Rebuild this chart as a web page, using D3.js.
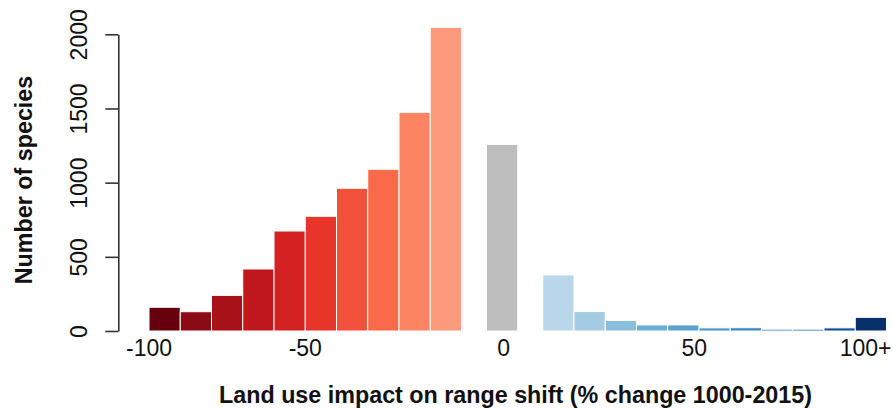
<!DOCTYPE html>
<html>
<head>
<meta charset="utf-8">
<script src="https://cdn.jsdelivr.net/npm/d3@7"></script>
<style>
  html, body { margin: 0; padding: 0; background: #fff; }
  svg { display: block; font-family: "Liberation Sans", Arial, sans-serif; }
</style>
</head>
<body>
<svg id="chart" width="893" height="409"></svg>
<script>
// Species counts per range-shift class (% change 1000-2015)
const lossBins = ["-100", "-90", "-80", "-70", "-60", "-50", "-40", "-30", "-20", "-10"];
const lossCounts = [160, 130, 240, 418, 674, 773, 962, 1090, 1474, 2047];
const lossColors = ["#67000d", "#8a0b13", "#a81118", "#c0171d", "#d42121",
                    "#e8352a", "#f3503b", "#fb6a4a", "#fc8463", "#fc9a7b"];

const noChangeBin = ["0"];
const noChangeCount = [1258];
const noChangeColor = ["#bebebe"];

const gainBins = ["0", "10", "20", "30", "40", "50", "60", "70", "80", "90", "100+"];
const gainCounts = [378, 131, 71, 41, 41, 21, 22, 12, 12, 21, 92];
const gainColors = ["#bad6eb", "#a3cbe3", "#88bedc", "#6baed6", "#5aa2cf",
                    "#4a94c8", "#3a86c0", "#2f78b8", "#2068ad", "#0f4f97", "#08306b"];

const xTickLabels = ["-100", "-50", "0", "50", "100+"];
const yTickValues = [0, 500, 1000, 1500, 2000];

// Bar layout in bar-width units: loss bars touch, then a gap, the
// no-change bar, another gap, and the gain bars.
const gapUnits = 0.8;
const bars = [];
let u = 0;
lossCounts.forEach((v, i) => { bars.push({ bin: lossBins[i], value: v, color: lossColors[i], u0: u }); u += 1; });
u += gapUnits;
const zeroBar = u;
noChangeCount.forEach((v, i) => { bars.push({ bin: noChangeBin[i], value: v, color: noChangeColor[i], u0: u }); u += 1; });
u += gapUnits;
const gainStart = u;
gainCounts.forEach((v, i) => { bars.push({ bin: gainBins[i], value: v, color: gainColors[i], u0: u }); u += 1; });
const totalUnits = u;

// Label positions along the same unit axis
const xTickAt = [0, 5, zeroBar + 0.55, gainStart + 4.85, gainStart + 10.33];

const svg = d3.select("#chart");

const x = d3.scaleLinear().domain([0, totalUnits]).range([149, 886.5]);
const y = d3.scaleLinear().domain([0, 2000]).range([331, 34.3]);

// Bars
svg.append("g")
  .selectAll("rect")
  .data(bars)
  .join("rect")
  .attr("x", d => x(d.u0))
  .attr("width", d => x(d.u0 + 1) - x(d.u0))
  .attr("y", d => y(d.value))
  .attr("height", d => y(0) - y(d.value))
  .attr("fill", d => d.color)
  .attr("stroke", "#fff")
  .attr("stroke-width", 1);

// Y axis with rotated labels
const yAxis = svg.append("g")
  .attr("transform", "translate(118.3,0)")
  .call(d3.axisLeft(y).tickValues(yTickValues).tickFormat(d3.format("d"))
    .tickSize(13).tickSizeOuter(0).tickPadding(0));
yAxis.select(".domain").attr("stroke", "#333").attr("stroke-width", 1.6);
yAxis.selectAll(".tick line").attr("stroke", "#333").attr("stroke-width", 1.6);
yAxis.selectAll(".tick text")
  .attr("transform", "rotate(-90)")
  .attr("x", 0)
  .attr("y", -31.8)
  .attr("dy", null)
  .attr("text-anchor", "middle")
  .attr("font-size", 23)
  .attr("font-family", "Liberation Sans, Arial, sans-serif")
  .attr("fill", "#111");

// X labels (no axis line)
svg.append("g")
  .selectAll("text")
  .data(xTickLabels)
  .join("text")
  .attr("x", (d, i) => x(xTickAt[i]))
  .attr("y", 356)
  .attr("text-anchor", "middle")
  .attr("font-size", 23)
  .attr("fill", "#111")
  .text(d => d);

// Axis titles
svg.append("text")
  .attr("x", 515.5)
  .attr("y", 403)
  .attr("text-anchor", "middle")
  .attr("font-size", 23.3)
  .attr("font-weight", "bold")
  .attr("fill", "#111")
  .text("Land use impact on range shift (% change 1000-2015)");

svg.append("text")
  .attr("transform", "translate(31.5,180) rotate(-90)")
  .attr("text-anchor", "middle")
  .attr("font-size", 23.3)
  .attr("font-weight", "bold")
  .attr("fill", "#111")
  .text("Number of species");
</script>
</body>
</html>
